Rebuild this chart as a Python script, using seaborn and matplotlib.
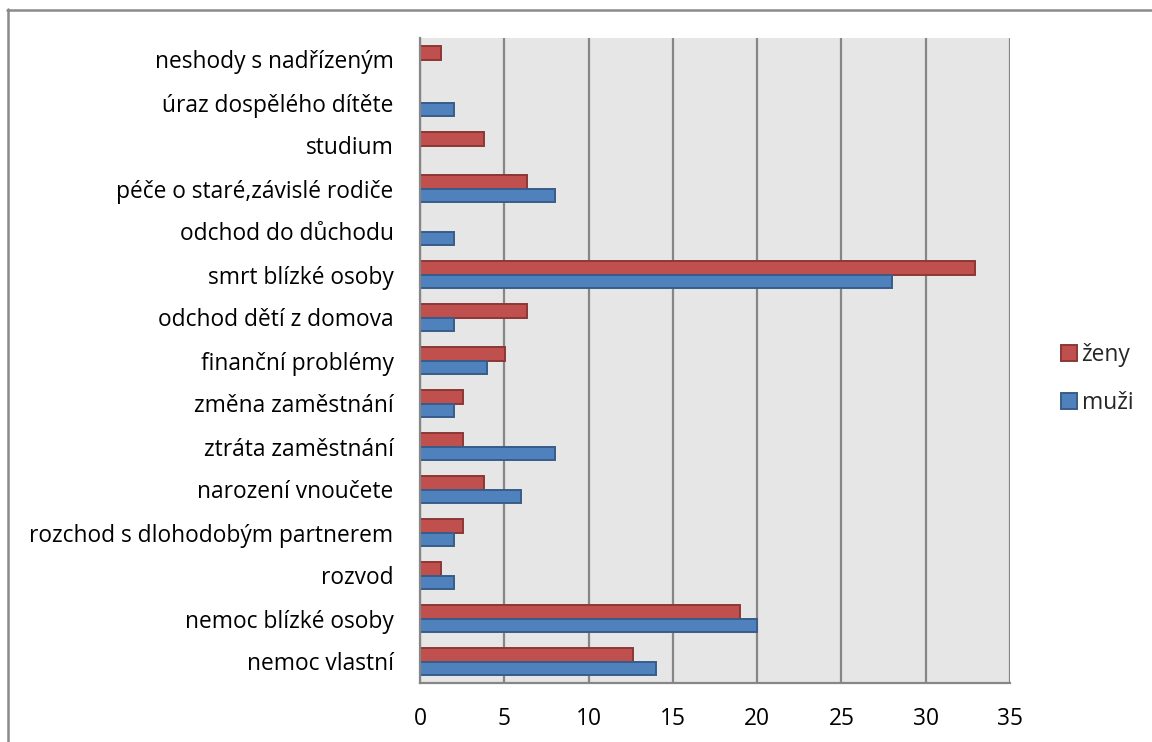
import matplotlib
matplotlib.use("Agg")
import matplotlib.pyplot as plt
from matplotlib.lines import Line2D
from matplotlib.patches import Rectangle
import seaborn as sns
import pandas as pd
import numpy as np

# Life events, listed top to bottom
categories = [
    "neshody s nadřízeným",
    "úraz dospělého dítěte",
    "studium",
    "péče o staré,závislé rodiče",
    "odchod do důchodu",
    "smrt blízké osoby",
    "odchod dětí z domova",
    "finanční problémy",
    "změna zaměstnání",
    "ztráta zaměstnání",
    "narození vnoučete",
    "rozchod s dlohodobým partnerem",
    "rozvod",
    "nemoc blízké osoby",
    "nemoc vlastní",
]
zeny = [1.27, 0, 3.80, 6.33, 0, 32.91, 6.33, 5.06, 2.53, 2.53, 3.80, 2.53, 1.27, 18.99, 12.66]
muzi = [0, 2, 0, 8, 2, 28, 2, 4, 2, 8, 6, 2, 2, 20, 14]
series = ["ženy", "muži"]
x_ticks = [0, 5, 10, 15, 20, 25, 30, 35]

df = pd.DataFrame({
    "kategorie": categories * 2,
    "hodnota": zeny + muzi,
    "pohlavi": [series[0]] * len(categories) + [series[1]] * len(categories),
})

sns.set_theme(style="white")
plt.rcParams["font.family"] = ["Open Sans", "DejaVu Sans"]
FS = 16.4

fig = plt.figure(figsize=(11.52, 7.42), dpi=100)
ax = fig.add_axes([420 / 1152, 1 - 683 / 742, 590 / 1152, 645 / 742])

palette = {"ženy": "#C0504D", "muži": "#4F81BD"}
edges = {"ženy": "#8C3836", "muži": "#385D8A"}

sns.barplot(
    data=df, y="kategorie", x="hodnota", hue="pohlavi",
    order=categories, hue_order=series, palette=palette,
    orient="h", width=0.64, ax=ax, legend=False, errorbar=None,
    saturation=1,
)
for cont, name in zip(ax.containers, series):
    for bar in cont:
        bar.set_edgecolor(edges[name])
        bar.set_linewidth(1.4)

gray = "#868686"
ax.set_facecolor("#E6E6E6")
ax.set_xlim(0, 35)
ax.set_ylim(len(categories) - 0.5, -0.5)
ax.set_xticks(x_ticks)
ax.set_xticklabels([str(t) for t in x_ticks], fontsize=FS, color="#000000")
ax.xaxis.grid(True, color=gray, linewidth=1.6)
ax.yaxis.grid(False)
ax.set_axisbelow(True)
ax.set_xlabel("")
ax.set_ylabel("")

ax.set_yticks(range(len(categories)))
ax.set_yticklabels(categories, fontsize=FS, color="#000000")
ax.set_yticks(np.arange(-0.5, len(categories), 1), minor=True)
ax.tick_params(axis="y", which="major", length=0, pad=19)
ax.tick_params(axis="y", which="minor", length=8, width=1.6, color=gray, direction="out")
ax.tick_params(axis="x", which="major", length=9, width=1.6, color=gray, direction="out", pad=8)

for side in ["top", "right"]:
    ax.spines[side].set_visible(False)
for side in ["left", "bottom"]:
    ax.spines[side].set_color(gray)
    ax.spines[side].set_linewidth(1.6)

# Legend
handles = [
    Rectangle((0, 0), 1, 1, facecolor=palette[s], edgecolor=edges[s], linewidth=1.4)
    for s in series
]
fig.legend(
    handles, series, loc="center left", bbox_to_anchor=(1061 / 1152, 1 - 379 / 742),
    frameon=False, fontsize=FS, handlelength=0.7, handleheight=0.7,
    handletextpad=0.2, labelspacing=1.05, borderaxespad=0, borderpad=0,
)

# Outer chart frame (left and top edges)
fig.add_artist(Line2D([7.5 / 1152, 7.5 / 1152], [0, 1 - 9 / 742], color="#8A8A8A", linewidth=1.8,
                      transform=fig.transFigure))
fig.add_artist(Line2D([7 / 1152, 1], [1 - 9.5 / 742, 1 - 9.5 / 742], color="#8A8A8A", linewidth=1.8,
                      transform=fig.transFigure))

fig.savefig("out.png", dpi=100, facecolor="white")
